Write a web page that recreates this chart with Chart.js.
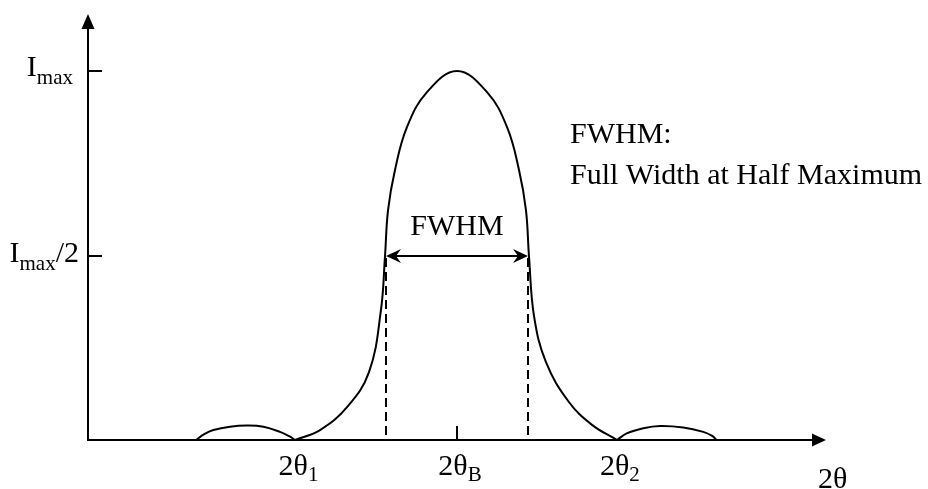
<!DOCTYPE html>
<html>
<head>
<meta charset="utf-8">
<script src="https://cdn.jsdelivr.net/npm/chart.js@4/dist/chart.umd.min.js"></script>
<style>
  html, body { margin: 0; padding: 0; background: #ffffff; }
  #wrap { width: 928px; height: 489px; }
</style>
</head>
<body>
<div id="wrap"><canvas id="c" width="928" height="489"></canvas></div>
<script>
// ---- data (x in units where 2θ1 ≈ -1, 2θB = 0, 2θ2 ≈ 1; y relative to Imax) ----
const peakX = [-1.003, -0.848, -0.681, -0.545, -0.471, -0.446, -0.427, -0.384, -0.310, -0.186, 0,
               0.186, 0.310, 0.384, 0.427, 0.446, 0.477, 0.551, 0.693, 0.836, 0.991];
const peakY = [0, 0.027, 0.089, 0.184, 0.352, 0.497, 0.623, 0.732, 0.848, 0.943, 1.0,
               0.943, 0.848, 0.732, 0.623, 0.497, 0.336, 0.211, 0.103, 0.041, 0];
const lobeLeftX = [-1.616, -1.565, -1.509, -1.406, -1.302, -1.199, -1.096, -1.034, -1.003];
const lobeLeftY = [0, 0.016, 0.027, 0.036, 0.039, 0.036, 0.022, 0.009, 0];
const lobeRightX = [0.991, 1.051, 1.154, 1.257, 1.401, 1.525, 1.580, 1.608];
const lobeRightY = [0, 0.018, 0.032, 0.038, 0.034, 0.022, 0.011, 0];

const yTickValues = [1, 0.5];
const yTickMain = ['I', 'I'];
const yTickSub = ['max', 'max'];
const yTickSuffix = ['', '/2'];

const xTickValues = [-1.0, 0, 0.99];
const xTickMain = ['2θ', '2θ', '2θ'];
const xTickSub = ['1', 'B', '2'];
const xAxisTitle = '2θ';

const halfMax = 0.5;
const fwhmBounds = [-0.44, 0.44];
const fwhmLabel = 'FWHM';
const noteLines = ['FWHM:', 'Full Width at Half Maximum'];

const xRange = [-2.285, 2.285];
const yRange = [0, 1.152];

function pts(xs, ys) { return xs.map((x, i) => ({ x: x, y: ys[i] })); }

const SERIF = '"Liberation Serif", "Times New Roman", serif';

function drawSubLabel(ctx, main, sub, suffix, x, baseline, align, mainSize, subSize, subDrop) {
  ctx.font = mainSize + 'px ' + SERIF;
  const wMain = ctx.measureText(main).width;
  const wSuf = ctx.measureText(suffix).width;
  ctx.font = subSize + 'px ' + SERIF;
  const wSub = ctx.measureText(sub).width;
  const total = wMain + wSub + wSuf;
  let sx = x;
  if (align === 'right') sx = x - total;
  else if (align === 'center') sx = x - total / 2;
  ctx.textAlign = 'left';
  ctx.textBaseline = 'alphabetic';
  ctx.font = mainSize + 'px ' + SERIF;
  ctx.fillText(main, sx, baseline);
  ctx.font = subSize + 'px ' + SERIF;
  ctx.fillText(sub, sx + wMain, baseline + subDrop);
  if (suffix) {
    ctx.font = mainSize + 'px ' + SERIF;
    ctx.fillText(suffix, sx + wMain + wSub, baseline);
  }
}

function barbArrow(ctx, tipX, tipY, dir) {
  ctx.beginPath();
  ctx.moveTo(tipX, tipY);
  ctx.lineTo(tipX - dir * 15, tipY - 7);
  ctx.lineTo(tipX - dir * 10, tipY);
  ctx.lineTo(tipX - dir * 15, tipY + 7);
  ctx.closePath();
  ctx.fill();
}

const overlay = {
  id: 'overlay',
  afterDatasetsDraw(chart) {
    const ctx = chart.ctx;
    const xs = chart.scales.x, ys = chart.scales.y;
    const ca = chart.chartArea;
    const x0 = Math.round(xs.getPixelForValue(xRange[0]));
    const y0 = Math.round(ys.getPixelForValue(0));
    ctx.save();
    ctx.strokeStyle = '#000';
    ctx.fillStyle = '#000';
    ctx.lineWidth = 2;

    // y axis line + arrow
    ctx.beginPath();
    ctx.moveTo(x0, y0 + 1);
    ctx.lineTo(x0, ca.top + 12);
    ctx.stroke();
    ctx.beginPath();
    ctx.moveTo(x0, ca.top - 1);
    ctx.lineTo(x0 - 6.5, ca.top + 14);
    ctx.lineTo(x0 + 6.5, ca.top + 14);
    ctx.closePath();
    ctx.fill();

    // x axis line + arrow
    const xEnd = xs.getPixelForValue(xRange[1]);
    ctx.beginPath();
    ctx.moveTo(x0, y0);
    ctx.lineTo(xEnd - 12, y0);
    ctx.stroke();
    ctx.beginPath();
    ctx.moveTo(xEnd, y0);
    ctx.lineTo(xEnd - 14, y0 - 6.5);
    ctx.lineTo(xEnd - 14, y0 + 6.5);
    ctx.closePath();
    ctx.fill();

    // y ticks and labels
    const yRightEdge = [x0 - 15, x0 - 9];
    const yBaseOff = [5, 6];
    yTickValues.forEach((v, i) => {
      const py = Math.round(ys.getPixelForValue(v));
      ctx.beginPath();
      ctx.moveTo(x0, py);
      ctx.lineTo(x0 + 14, py);
      ctx.stroke();
      drawSubLabel(ctx, yTickMain[i], yTickSub[i], yTickSuffix[i], yRightEdge[i], py + yBaseOff[i], 'right', 30, 21, 8);
    });

    // x tick at 2θB and labels
    const pB = Math.round(xs.getPixelForValue(0));
    ctx.beginPath();
    ctx.moveTo(pB, y0);
    ctx.lineTo(pB, y0 - 14);
    ctx.stroke();
    xTickValues.forEach((v, i) => {
      const px = xs.getPixelForValue(v);
      drawSubLabel(ctx, xTickMain[i], xTickSub[i], '', px + 3, y0 + 35, 'center', 30, 21, 6);
    });

    // axis title
    ctx.font = '30px ' + SERIF;
    ctx.textAlign = 'left';
    ctx.textBaseline = 'alphabetic';
    ctx.fillText(xAxisTitle, xEnd - 8, y0 + 48);

    // FWHM dashed lines
    const pyH = Math.round(ys.getPixelForValue(halfMax));
    const pL = Math.round(xs.getPixelForValue(fwhmBounds[0]));
    const pR = Math.round(xs.getPixelForValue(fwhmBounds[1]));
    ctx.setLineDash([9, 5]);
    [pL, pR].forEach(px => {
      ctx.beginPath();
      ctx.moveTo(px, pyH + 2);
      ctx.lineTo(px, y0 - 3);
      ctx.stroke();
    });
    ctx.setLineDash([]);

    // FWHM double arrow
    ctx.beginPath();
    ctx.moveTo(pL + 8, pyH);
    ctx.lineTo(pR - 8, pyH);
    ctx.stroke();
    barbArrow(ctx, pL, pyH, -1);
    barbArrow(ctx, pR, pyH, 1);

    // FWHM label
    ctx.font = '30px ' + SERIF;
    ctx.textAlign = 'center';
    ctx.fillText(fwhmLabel, (pL + pR) / 2, pyH - 21);

    // note
    ctx.textAlign = 'left';
    ctx.fillText(noteLines[0], 570, 143);
    ctx.fillText(noteLines[1], 570, 184);
    ctx.restore();
  }
};

const lineStyle = {
  borderColor: '#000',
  borderWidth: 2,
  pointRadius: 0,
  fill: false,
  tension: 0.4
};

new Chart(document.getElementById('c'), {
  type: 'line',
  data: {
    datasets: [
      Object.assign({ label: 'peak', data: pts(peakX, peakY) }, lineStyle),
      Object.assign({ label: 'lobeL', data: pts(lobeLeftX, lobeLeftY) }, lineStyle),
      Object.assign({ label: 'lobeR', data: pts(lobeRightX, lobeRightY) }, lineStyle)
    ]
  },
  options: {
    responsive: false,
    animation: false,
    devicePixelRatio: 1,
    layout: { padding: { left: 88, right: 102, top: 15, bottom: 49 } },
    scales: {
      x: { type: 'linear', min: xRange[0], max: xRange[1], display: false },
      y: { type: 'linear', min: yRange[0], max: yRange[1], display: false }
    },
    plugins: { legend: { display: false }, tooltip: { enabled: false } }
  },
  plugins: [overlay]
});
</script>
</body>
</html>
